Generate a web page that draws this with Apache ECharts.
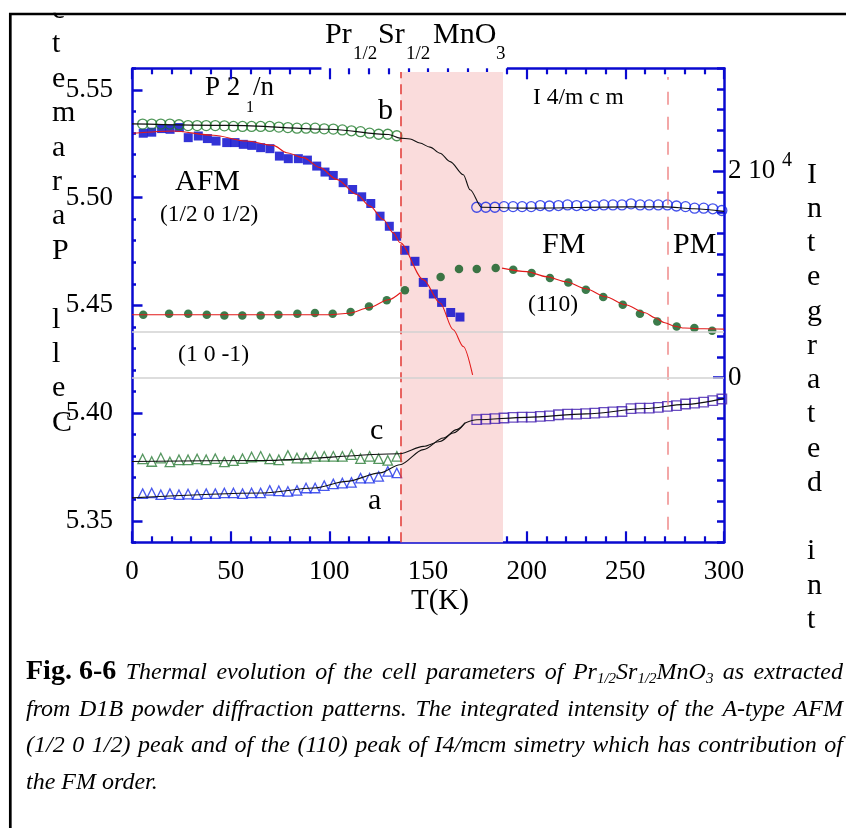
<!DOCTYPE html>
<html lang="en">
<head>
<meta charset="UTF-8">
<title>Pr1/2Sr1/2MnO3 cell parameters</title>
<script src="https://cdn.jsdelivr.net/npm/echarts@6/dist/echarts.min.js"></script>
<style>
    html, body { margin: 0; padding: 0; background: #fff; overflow: hidden; }
    #chart { position: absolute; left: 0; top: 0; width: 846px; height: 828px; }
    #caption { position: absolute; left: 26px; top: 652px; width: 817px; color: #000;
        font-family: "Liberation Serif", serif; font-size: 24px; font-style: italic; line-height: 36.7px; }
    #caption .ln { display: flex; justify-content: space-between; align-items: baseline; white-space: nowrap; }
    #caption .last { display: block; }
    #caption b { font-style: normal; font-size: 28px; }
    #caption sub { font-size: 15px; vertical-align: -4px; line-height: 0; }
</style>
</head>
<body>
<div id="chart"></div>
<div id="caption"></div>
<script>
    // temperature grids (K)
    var tLow = [5.4, 10.0, 14.6, 19.2, 23.8, 28.4, 33.0, 37.6, 42.2, 46.8, 51.4, 56.0, 60.6, 65.2, 69.8,
        74.4, 79.0, 83.6, 88.2, 92.8, 97.4, 102.0, 106.6, 111.2, 115.8, 120.4, 125.0, 129.6, 134.2];
    var tHigh = [174.7, 179.3, 183.9, 188.5, 193.1, 197.7, 202.3, 206.9, 211.5, 216.1, 220.7, 225.3, 229.9, 234.5,
        239.1, 243.7, 248.3, 252.9, 257.5, 262.1, 266.7, 271.3, 275.9, 280.5, 285.1, 289.7, 294.3, 298.9];

    // cell parameter b (A)
    var bLow = [5.5341, 5.5341, 5.5341, 5.5341, 5.5338, 5.5334, 5.5334, 5.5334, 5.5334, 5.5333, 5.5330, 5.5330,
        5.5330, 5.5330, 5.5330, 5.5327, 5.5325, 5.5322, 5.5322, 5.5322, 5.5319, 5.5318, 5.5314, 5.5310, 5.5306,
        5.5299, 5.5294, 5.5294, 5.5287];
    var bHigh = [5.4955, 5.4955, 5.4955, 5.4958, 5.4958, 5.4958, 5.4958, 5.4963, 5.4961, 5.4963, 5.4966, 5.4963,
        5.4963, 5.4963, 5.4966, 5.4966, 5.4966, 5.4971, 5.4966, 5.4966, 5.4966, 5.4966, 5.4961, 5.4958, 5.4951,
        5.4951, 5.4948, 5.4940];
    var bFitT = [0, 50, 100, 130, 135.8, 140.9, 145.9, 151, 156.1, 161.2, 167.9, 171.3, 177.2, 200, 250, 270, 285, 300];
    var bFitV = [5.5342, 5.5335, 5.5317, 5.5293, 5.5276, 5.5272, 5.5253, 5.5234, 5.5206, 5.5167, 5.5106, 5.5036,
        5.4955, 5.4951, 5.4957, 5.4957, 5.4948, 5.4936];

    // cell parameters c and a (A)
    var cLow = [5.3787, 5.3775, 5.3791, 5.3773, 5.3783, 5.3783, 5.3787, 5.3783, 5.3788, 5.3773, 5.3779, 5.3788,
        5.3796, 5.3799, 5.3787, 5.3783, 5.3803, 5.3791, 5.3791, 5.3799, 5.3799, 5.3799, 5.3799, 5.3807, 5.3788,
        5.3799, 5.3788, 5.3780, 5.3799];
    var aLow = [5.3626, 5.3629, 5.3621, 5.3626, 5.3621, 5.3624, 5.3621, 5.3626, 5.3626, 5.3629, 5.3629, 5.3626,
        5.3629, 5.3629, 5.3641, 5.3639, 5.3636, 5.3641, 5.3652, 5.3652, 5.3663, 5.3671, 5.3675, 5.3678, 5.3698,
        5.3698, 5.3706, 5.3729, 5.3722];
    var acHigh = [5.3969, 5.3972, 5.3974, 5.3977, 5.3980, 5.3981, 5.3981, 5.3984, 5.3987, 5.3992, 5.3995, 5.3995,
        5.3997, 5.4000, 5.4003, 5.4005, 5.4007, 5.4020, 5.4023, 5.4023, 5.4026, 5.4031, 5.4034, 5.4042, 5.4046,
        5.4051, 5.4058, 5.4065];
    var cFitT = [0, 66.5, 135.8, 147.6, 156.1, 162.8, 168.8];
    var cFitV = [5.3775, 5.3780, 5.3811, 5.3845, 5.3868, 5.3907, 5.3954];
    var aFitT = [0, 66.5, 91.9, 108.8, 125.7, 135.8, 147.6, 157.8, 164.5, 168.8];
    var aFitV = [5.3606, 5.3629, 5.3652, 5.3683, 5.3722, 5.3760, 5.3830, 5.3884, 5.3923, 5.3954];
    var acFitT = [168.8, 174.7, 200, 230, 260, 280, 300];
    var acFitV = [5.3954, 5.3969, 5.3980, 5.3996, 5.4021, 5.4040, 5.4067];

    // integrated intensity, AFM (1/2 0 1/2) peak
    var afmT = [5.7, 10, 15, 19.3, 24, 28.5, 33.6, 38.2, 42.6, 48, 52.2, 56.4, 60.7, 65.2, 69.9, 74.7, 79.2, 84.3,
        88.9, 93.6, 97.8, 102, 107, 111.8, 116.4, 121, 125.7, 130.4, 134.1, 138.3, 143.4, 147.6, 152.7, 156.9, 161.5, 166.2];
    var afmI = [23700, 23800, 24150, 24080, 24250, 23270, 23430, 23180, 22940, 22790, 22790, 22620, 22520, 22300,
        22200, 21480, 21230, 21230, 21090, 20510, 19930, 19600, 18900, 18240, 17530, 16880, 15650, 14670, 13700,
        12340, 11270, 9220, 8100, 7280, 6300, 5860];
    var afmFitT = [0.7, 20.9, 41.2, 58.1, 71.6, 78.4, 86.8, 95.3, 103.7, 113.9, 120.6, 127.3, 132.4, 135.8, 147.6,
        156.1, 162.8, 167.9, 172.6];
    var afmFitI = [23690, 23920, 23500, 22940, 22520, 21810, 21330, 20360, 19220, 17760, 16620, 15320, 14030, 13090,
        9490, 7220, 4620, 3000, 240];

    // integrated intensity, (110) peak
    var fmT = [5.7, 18.8, 28.5, 37.9, 46.8, 55.9, 65.2, 74.2, 83.8, 92.7, 101.7, 110.8, 120.1, 129.1, 138.3, 156.4,
        165.7, 174.7, 184.3, 193.2, 202.5, 211.8, 221.1, 230, 238.8, 248.7, 257.4, 266.2, 276, 285, 294];
    var fmI = [6080, 6180, 6180, 6080, 6010, 6010, 6010, 6080, 6180, 6250, 6180, 6340, 6890, 7490, 8450, 9750,
        10530, 10530, 10630, 10460, 10140, 9650, 9220, 8510, 7800, 7050, 6180, 5430, 4940, 4790, 4520];
    var fmFitLoT = [0, 100, 110, 120, 130, 136];
    var fmFitLoI = [6080, 6080, 6230, 6760, 7540, 8220];
    var fmFitHiT = [187.5, 200, 210, 220, 230, 240, 250, 260, 265, 270, 275, 280, 290, 300];
    var fmFitHiI = [10610, 10270, 9780, 9290, 8610, 7830, 7050, 6280, 5790, 5300, 4960, 4790, 4720, 4690];

    // tick labels and guides
    var leftMajor = [5.35, 5.40, 5.45, 5.50, 5.55];
    var rightMajor = [0, 20000];
    var baseLines = [0, 4456];
    var transitions = [136, 271.5];
    var mixedZone = [136, 188];

    var capLines = [
        ['<b>Fig. 6-6</b>', 'Thermal', 'evolution', 'of', 'the', 'cell', 'parameters', 'of',
            'Pr<sub>1/2</sub>Sr<sub>1/2</sub>MnO<sub>3</sub>', 'as', 'extracted'],
        'from D1B powder diffraction patterns. The integrated intensity of the A-type AFM'.split(' '),
        '(1/2 0 1/2) peak and of the (110) peak of I4/mcm simetry which has contribution of'.split(' ')
    ];
    var capLast = 'the FM order.';

    var cap = document.getElementById('caption');
    capLines.forEach(function (words) {
        var div = document.createElement('div');
        div.className = 'ln';
        div.innerHTML = words.map(function (w) { return '<span>' + w + '</span>'; }).join('');
        cap.appendChild(div);
    });
    var last = document.createElement('div');
    last.className = 'last';
    last.textContent = capLast;
    cap.appendChild(last);

    var blue = '#0a0ad0';
    var serif = '"Liberation Serif", "Times New Roman", serif';

    function pairs(xs, ys) {
        return xs.map(function (x, i) { return [x, ys[i]]; });
    }
    function dots(xs, ys, yIdx, symbol, size, color, hollow, z) {
        return {
            type: 'scatter', yAxisIndex: yIdx, data: pairs(xs, ys), symbol: symbol, symbolSize: size,
            itemStyle: hollow ? { color: 'rgba(0,0,0,0)', borderColor: color, borderWidth: 1.3 } : { color: color },
            z: z || 3, silent: true
        };
    }
    function fit(xs, ys, yIdx, color) {
        return {
            type: 'line', yAxisIndex: yIdx, data: pairs(xs, ys), showSymbol: false, symbol: 'none',
            smooth: 0.3, smoothMonotone: 'x', lineStyle: { color: color, width: 1.1 }, z: 5, silent: true
        };
    }
    // text placed by its baseline
    function txt(x, base, s, size, bold) {
        return {
            type: 'text', x: x, y: base - 0.3375 * size, silent: true,
            style: {
                text: s, font: (bold ? 'bold ' : '') + size + 'px ' + serif, fill: '#000',
                align: 'left', verticalAlign: 'middle', textAlign: 'left', textVerticalAlign: 'middle'
            }
        };
    }
    function column(x, y0, s, size, step) {
        return {
            type: 'text', x: x, y: y0, silent: true,
            style: {
                text: s.split('').join('\n'), font: size + 'px ' + serif, fill: '#000', lineHeight: step,
                align: 'left', verticalAlign: 'top', textAlign: 'left', textVerticalAlign: 'top'
            }
        };
    }

    var tickStyle = { color: blue, width: 2.2 };
    var xBase = {
        type: 'value', min: 0, max: 300, interval: 50,
        axisLine: { show: true, onZero: false, lineStyle: { color: blue, width: 2.5 } },
        axisTick: { show: true, inside: true, length: 11, lineStyle: tickStyle },
        minorTick: { show: true, splitNumber: 5, length: 6, lineStyle: tickStyle },
        splitLine: { show: false }, minorSplitLine: { show: false }
    };

    var myChart = echarts.init(document.getElementById('chart'));
    var option = {
        animation: false,
        backgroundColor: 'rgba(0,0,0,0)',
        grid: { left: 132, right: 122, top: 68.3, bottom: 285.7, containLabel: false, outerBoundsMode: 'none' },
        xAxis: [
            Object.assign({}, xBase, {
                position: 'bottom',
                axisLabel: { show: true, margin: 16.5, fontSize: 27, fontFamily: serif, color: '#000' }
            }),
            Object.assign({}, xBase, {
                position: 'top', axisLine: { show: false, onZero: false }, axisLabel: { show: false }
            })
        ],
        yAxis: [
            {
                type: 'value', position: 'left', min: 5.34, max: 5.56, interval: 0.01,
                axisLine: { show: true, onZero: false, lineStyle: { color: blue, width: 2.5 } },
                axisTick: { show: true, inside: true, length: 4, lineStyle: { color: blue, width: 2.5 } },
                axisLabel: { show: false }, splitLine: { show: false }
            },
            {
                type: 'value', position: 'right', min: -16000, max: 30000, interval: 2000,
                axisLine: { show: true, onZero: false, lineStyle: { color: blue, width: 2.5 } },
                axisTick: { show: true, inside: true, length: 7, lineStyle: { color: blue, width: 2.5 } },
                axisLabel: { show: false }, splitLine: { show: false }
            },
            {
                type: 'value', position: 'left', min: 5.34, max: 5.56,
                axisLine: { show: false, onZero: false },
                axisTick: { show: true, inside: true, length: 10.5, customValues: leftMajor,
                    lineStyle: { color: blue, width: 2.5 } },
                axisLabel: {
                    show: true, customValues: leftMajor, margin: 19, fontSize: 27, fontFamily: serif, color: '#000',
                    formatter: function (v) { return v.toFixed(2); }
                },
                splitLine: { show: false }
            },
            {
                type: 'value', position: 'right', min: -16000, max: 30000,
                axisLine: { show: false, onZero: false },
                axisTick: { show: true, inside: true, length: 11, customValues: rightMajor,
                    lineStyle: { color: blue, width: 2.5 } },
                axisLabel: {
                    show: true, customValues: rightMajor, margin: 4, fontSize: 27, fontFamily: serif, color: '#000',
                    formatter: function (v) { return v === 0 ? '0' : '2 10'; }
                },
                splitLine: { show: false }
            }
        ],
        graphic: [
            column(52, -41.5, 'retemaraP lleC', 30, 34.4),
            column(807, 157.8, 'Integrated int', 30, 34.23),
            { type: 'rect', shape: { x: 0, y: 0, width: 846, height: 12.7 }, style: { fill: '#fff' }, silent: true },
            { type: 'rect', shape: { x: 10.3, y: 14, width: 1000, height: 1000 },
                style: { fill: 'none', stroke: '#000', lineWidth: 2.7 }, silent: true },
            txt(325, 45, 'Pr', 30), txt(353, 60, '1/2', 19), txt(378, 45, 'Sr', 30),
            txt(406, 60, '1/2', 19), txt(433, 45, 'MnO', 30), txt(496, 60, '3', 19),
            txt(205, 97, 'P 2', 27), txt(246, 113.3, '1', 16), txt(253, 97, '/n', 27),
            txt(378, 121.7, 'b', 30),
            txt(533, 106, 'I 4/m c m', 23.5),
            txt(175, 192.7, 'AFM', 30),
            txt(160, 222.5, '(1/2 0 1/2)', 23.3),
            txt(542, 255, 'FM', 30),
            txt(673, 255, 'PM', 30),
            txt(528, 312.5, '(110)', 23.5),
            txt(178, 362.5, '(1 0 -1)', 23.7),
            txt(370, 441.7, 'c', 30),
            txt(368, 511.7, 'a', 30),
            txt(782, 167, '4', 20),
            txt(411, 611, 'T(K)', 29)
        ],
        series: [
            {
                type: 'line', yAxisIndex: 0, data: [[0, 5.34]], showSymbol: false, symbol: 'none',
                lineStyle: { width: 0 }, z: 1, silent: true,
                markArea: {
                    silent: true, itemStyle: { color: '#fadcdc' },
                    data: [[{ coord: [mixedZone[0], 5.34] }, { coord: [mixedZone[1], 5.5583] }]]
                },
                markLine: {
                    silent: true, symbol: ['none', 'none'], label: { show: false },
                    data: [
                        [{ coord: [transitions[0], 5.34], lineStyle: { color: '#e23a36', type: [10, 6], width: 1.5 } },
                            { coord: [transitions[0], 5.5583] }],
                        [{ coord: [transitions[1], 5.3458], lineStyle: { color: '#f08a8a', type: [13, 12], width: 1.5 } },
                            { coord: [transitions[1], 5.556] }],
                        [{ coord: [0, 5.56], lineStyle: { color: blue, type: 'solid', width: 2.5 } }, { coord: [96, 5.56] }],
                        [{ coord: [190, 5.56], lineStyle: { color: blue, type: 'solid', width: 2.5 } }, { coord: [300, 5.56] }]
                    ]
                }
            },
            {
                type: 'line', yAxisIndex: 1, data: [[0, 0]], showSymbol: false, symbol: 'none',
                lineStyle: { width: 0 }, z: 1, silent: true,
                markLine: {
                    silent: true, symbol: ['none', 'none'], label: { show: false },
                    lineStyle: { color: '#d2d2d2', type: 'solid', width: 1.6 },
                    data: baseLines.map(function (v) { return { yAxis: v }; })
                }
            },
            dots(fmT, fmI, 1, 'circle', 8.5, '#0b5a1e', false, 2),
            dots(afmT, afmI, 1, 'rect', 9, '#0000cc', false, 3),
            dots(tLow, bLow, 0, 'circle', 10, '#1f7a2a', true),
            dots(tHigh, bHigh, 0, 'circle', 10, '#1426e6', true),
            dots(tLow, cLow, 0, 'triangle', 9.5, '#2c7d38', true),
            dots(tLow, aLow, 0, 'triangle', 9.5, '#1a2ee8', true),
            dots(tHigh, acHigh, 0, 'rect', 9.5, '#4522b0', true),
            fit(bFitT, bFitV, 0, '#111'),
            fit(cFitT, cFitV, 0, '#111'),
            fit(aFitT, aFitV, 0, '#111'),
            fit(acFitT, acFitV, 0, '#111'),
            fit(afmFitT, afmFitI, 1, '#e21a1a'),
            fit(fmFitLoT, fmFitLoI, 1, '#e21a1a'),
            fit(fmFitHiT, fmFitHiI, 1, '#e21a1a')
        ]
    };
    myChart.setOption(option);
</script>
</body>
</html>
